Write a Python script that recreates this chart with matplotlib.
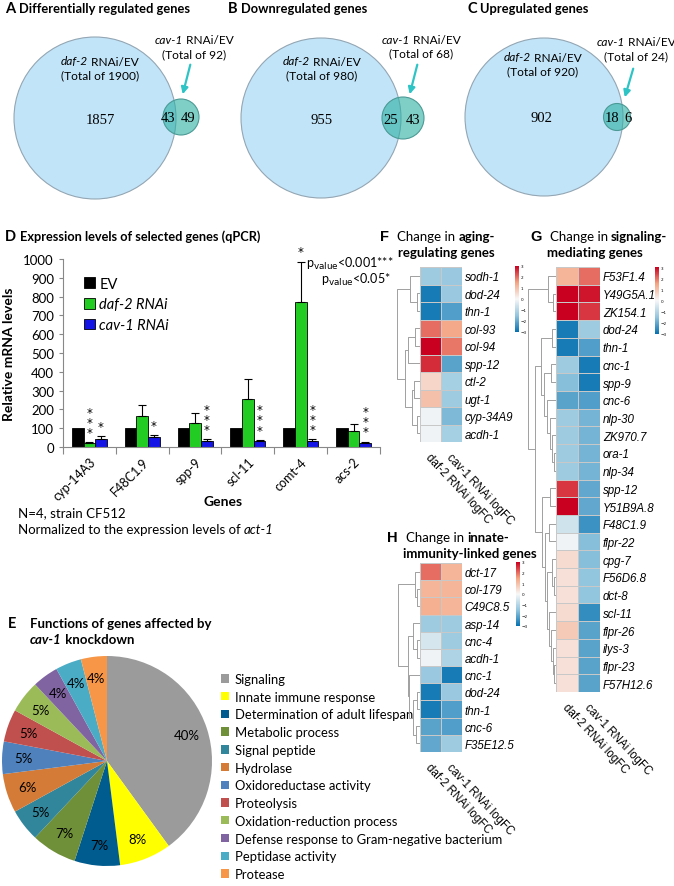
import numpy as np
import matplotlib
matplotlib.use('Agg')
import matplotlib.pyplot as plt
from matplotlib.patches import Circle
from matplotlib.colors import LinearSegmentedColormap

W, H = 674, 887
SANS = 'Lato'
ARIAL = 'Liberation Sans'
SERIF = 'Liberation Serif'

# ---- Venn counts (A, B, C)
venn_titles = ['Differentially regulated genes', 'Downregulated genes', 'Upregulated genes']
venn_letters = ['A', 'B', 'C']
daf2_total = [1900, 980, 920]
cav1_total = [92, 68, 24]
overlap = [43, 25, 18]

# ---- qPCR (D)
genes = ['cyp-14A3', 'F48C1.9', 'spp-9', 'scl-11', 'comt-4', 'acs-2']
ev = [100, 100, 100, 100, 100, 100]
daf2 = [20, 165, 128, 255, 770, 83]
daf2_err = [5, 60, 52, 107, 215, 40]
cav1 = [42, 52, 32, 32, 32, 23]
cav1_err = [15, 12, 8, 5, 8, 5]
daf2_stars = ['***', '', '', '', '*', '']
cav1_stars = ['*', '*', '***', '***', '***', '***']

# ---- functions pie (E)
func_labels = ['Signaling', 'Innate immune response', 'Determination of adult lifespan',
               'Metabolic process', 'Signal peptide', 'Hydrolase', 'Oxidoreductase activity',
               'Proteolysis', 'Oxidation-reduction process',
               'Defense response to Gram-negative bacterium', 'Peptidase activity', 'Protease']
func_pct = [40, 8, 7, 7, 5, 6, 5, 5, 5, 4, 4, 4]
func_colors = ['#9b9b9b', '#ffff00', '#005b8e', '#6f8f38', '#31869b', '#d47b38',
               '#4f81bd', '#c0504d', '#9bbb59', '#8064a2', '#4bacc6', '#f79646']

# ---- heatmaps (F, G, H): logFC (daf-2, cav-1)
col_labels = ['daf-2 RNAi logFC', 'cav-1 RNAi logFC']
f_genes = ['sodh-1', 'dod-24', 'thn-1', 'col-93', 'col-94', 'spp-12', 'ctl-2', 'ugt-1',
           'cyp-34A9', 'acdh-1']
f_daf2 = [-1.3, -2.8, -2.8, 2.0, 3.0, 2.6, 0.6, 1.0, -0.1, -0.1]
f_cav1 = [-1.4, -1.4, -2.2, 1.4, 1.9, -2.1, -1.2, -1.3, -1.7, -1.2]
f_tree = (70, (30, 0, (10, 1, 2)), (45, (37, (15, 3, 4), 5), (25, (17, 6, 7), (10, 8, 9))))

g_genes = ['F53F1.4', 'Y49G5A.1', 'ZK154.1', 'dod-24', 'thn-1', 'cnc-1', 'spp-9', 'cnc-6',
           'nlp-30', 'ZK970.7', 'ora-1', 'nlp-34', 'spp-12', 'Y51B9A.8', 'F48C1.9', 'flpr-22',
           'cpg-7', 'F56D6.8', 'dct-8', 'scl-11', 'flpr-26', 'ilys-3', 'flpr-23', 'F57H12.6']
g_daf2 = [1.2, 3.0, 3.0, -2.8, -2.8, -1.3, -1.6, -2.1, -1.3, -1.3, -1.3, -1.3, 2.5, 3.0,
          -0.6, -0.1, 0.5, 0.4, 0.4, 0.5, 0.8, 0.4, 0.4, 0.4]
g_cav1 = [2.0, 2.8, 2.5, -1.3, -2.2, -2.8, -2.8, -2.2, -1.8, -1.8, -1.8, -1.8, -2.0, -2.0,
          -2.4, -1.6, -1.6, -1.5, -1.5, -2.5, -2.1, -2.1, -2.1, -2.1]
g_tree = (29, (8, 0, (3, 1, 2)),
          (22, (16, (4, 3, 4), (12, (5, 5, 6), (9, 7, (6, 8, (4, 9, (2, 10, 11)))))),
           (15, (6, 12, 13), (11, (7, 14, 15), (9, (4, 16, (2, 17, 18)),
                                                  (7, 19, (5, 20, (3, 21, (2, 22, 23)))))))))

h_genes = ['dct-17', 'col-179', 'C49C8.5', 'asp-14', 'cnc-4', 'acdh-1', 'cnc-1', 'dod-24',
           'thn-1', 'cnc-6', 'F35E12.5']
h_daf2 = [2.0, 1.2, 1.3, -1.3, -0.5, -0.1, -1.4, -2.8, -2.8, -2.1, -2.0]
h_cav1 = [1.2, 1.2, 1.2, -1.3, -1.3, -1.1, -2.8, -1.4, -2.2, -2.2, -1.3]
h_tree = (67, (15, 0, (10, 1, 2)),
          (38, (20, 3, (10, 4, 5)), (32, 6, (20, (10, 7, 8), (13, 9, 10)))))

cmap = LinearSegmentedColormap.from_list(
    'rdbu5', ['#0571b0', '#92c5de', '#f7f7f7', '#f4a582', '#ca0020'])

fig = plt.figure(figsize=(W / 100, H / 100), dpi=100)
renderer = fig.canvas.get_renderer()


def fbox(x0, y0, x1, y1):
    return [x0 / W, 1 - y1 / H, (x1 - x0) / W, (y1 - y0) / H]


def txt(x, y, s, **kw):
    kw.setdefault('va', 'center')
    kw.setdefault('family', SANS)
    return fig.text(x / W, 1 - y / H, s, **kw)


def rich(x, y, parts, ha='left', **common):
    # parts: list of (string, props); placed one after another
    objs, widths = [], []
    for s, p in parts:
        kw = dict(common)
        kw.update(p)
        o = txt(0, y, s.rstrip(' '), ha='left', **kw)
        a = txt(0, -50, 'x x', **kw)
        b = txt(0, -50, 'xx', **kw)
        sp = a.get_window_extent(renderer).width - b.get_window_extent(renderer).width
        a.remove()
        b.remove()
        nsp = len(s) - len(s.rstrip(' '))
        objs.append(o)
        widths.append(o.get_window_extent(renderer).width + nsp * sp)
    start = x - sum(widths) / 2 if ha == 'center' else x
    for o, w in zip(objs, widths):
        o.set_x(start / W)
        start += w


# ================= Venn diagrams =================
ax0 = fig.add_axes([0, 0, 1, 1])
ax0.set_xlim(0, W)
ax0.set_ylim(H, 0)
ax0.axis('off')

venn_layout = [  # circles, label anchors, arrow ends (pixels)
    dict(big=(95, 119), rb=81, small=(181, 118), rs=18, dx=100, dy=62, cav=(194, 41),
         arrow=((191, 63), (182, 98)), title_x=5),
    dict(big=(321, 119), rb=80, small=(403, 119), rs=21, dx=322, dy=62, cav=(421, 40),
         arrow=((418, 63), (409, 98)), title_x=228),
    dict(big=(544, 118), rb=79, small=(617, 118), rs=13.5, dx=543, dy=58, cav=(636, 43),
         arrow=((634, 67), (624, 101)), title_x=467),
]
for i, L in enumerate(venn_layout):
    bx, by = L['big']
    sx, sy = L['small']
    ax0.add_patch(Circle((bx, by), L['rb'], facecolor='#c2e4f8', edgecolor='#93a6b3', lw=0.8))
    ax0.add_patch(Circle((sx, sy), L['rs'], facecolor='#2bafa3', alpha=0.6, edgecolor='none'))
    ax0.add_patch(Circle((sx, sy), L['rs'], facecolor='none', edgecolor='#4b9a95', lw=0.8))
    edge = bx + L['rb']
    ax0.text(L['dx'] - 2 * (i == 2), by + 1, str(daf2_total[i] - overlap[i]), ha='center',
             va='center', family=SERIF, fontsize=10.5)
    ax0.text((sx - L['rs'] + edge) / 2 - 1, sy + 1, str(overlap[i]), ha='center', va='center',
             family=SERIF, fontsize=10.5)
    ax0.text((edge + sx + L['rs']) / 2 + 1, sy + 1, str(cav1_total[i] - overlap[i]), ha='center',
             va='center', family=SERIF, fontsize=10.5)
    ax0.annotate('', xy=L['arrow'][1], xytext=L['arrow'][0],
                 arrowprops=dict(arrowstyle='-|>', color='#2ec4c6', lw=1.6, mutation_scale=10))
    rich(L['title_x'], 9, [(venn_letters[i] + ' ', dict(fontsize=10.5)),
                           (venn_titles[i], dict())], fontweight='bold', fontsize=9.3)
    rich(L['dx'], L['dy'], [('daf-2', dict(fontstyle='italic')), (' RNAi/EV', dict())],
         ha='center', fontsize=8.6)
    txt(L['dx'], L['dy'] + 14, f'(Total of {daf2_total[i]})', ha='center', fontsize=8.6)
    cx, cy = L['cav']
    rich(cx, cy, [('cav-1', dict(fontstyle='italic')), (' RNAi/EV', dict())], ha='center',
         fontsize=8.6)
    txt(cx, cy + 14, f'(Total of {cav1_total[i]})', ha='center', fontsize=8.6)

# ================= D bar chart =================
rich(5, 237, [('D ', dict(fontsize=10.5)), ('Expression levels of selected genes (qPCR)', dict())],
     fontweight='bold', fontsize=9.2)
ax = fig.add_axes(fbox(63, 260, 380, 448))
x = np.arange(len(genes))
w = 0.22
ax.bar(x - w, ev, w, color='black', edgecolor='black', lw=0.6, label='EV')
ax.bar(x, daf2, w, color='#22cc22', edgecolor='black', lw=0.6, label='daf-2 RNAi')
ax.bar(x + w, cav1, w, color='#1414e6', edgecolor='black', lw=0.6, label='cav-1 RNAi')
ax.errorbar(x, daf2, yerr=[np.zeros(len(x)), daf2_err], fmt='none', ecolor='black',
            elinewidth=0.8, capsize=3, capthick=0.8)
ax.errorbar(x + w, cav1, yerr=[np.zeros(len(x)), cav1_err], fmt='none', ecolor='black',
            elinewidth=0.8, capsize=3, capthick=0.8)
for i in range(len(x)):
    if daf2_stars[i]:
        ax.text(x[i], daf2[i] + daf2_err[i] + 18, '\n'.join(daf2_stars[i]), ha='center',
                va='bottom', fontsize=8.5, linespacing=0.72, clip_on=False)
    if cav1_stars[i]:
        ax.text(x[i] + w, cav1[i] + cav1_err[i] + 18, '\n'.join(cav1_stars[i]), ha='center',
                va='bottom', fontsize=8.5, linespacing=0.72, clip_on=False)
ax.set_xlim(-0.5, len(genes) - 0.5)
ax.set_ylim(0, 1000)
ax.set_yticks(np.arange(0, 1001, 100))
ax.set_xticks(np.arange(-0.5, len(genes), 1), [''] * (len(genes) + 1))
ax.set_xticks(x, genes, minor=True, rotation=45, ha='right', rotation_mode='anchor')
ax.tick_params(axis='x', which='major', length=5, color='#888888')
ax.tick_params(axis='x', which='minor', length=0, pad=6, labelsize=9)
ax.tick_params(axis='y', length=3, color='#888888', labelsize=9.5)
for lab in ax.get_xticklabels(minor=True) + ax.get_yticklabels():
    lab.set_family(SANS)
for s in ['top', 'right']:
    ax.spines[s].set_visible(False)
for s in ['left', 'bottom']:
    ax.spines[s].set_color('#888888')
ax.set_ylabel('Relative mRNA levels', fontweight='bold', fontsize=10, family=SANS, labelpad=6)
leg = ax.legend(loc='upper left', bbox_to_anchor=(0.025, 0.975), frameon=False,
                handlelength=0.75, handleheight=0.75, handletextpad=0.3, labelspacing=0.45,
                prop=dict(family=SANS, size=10.5))
for t in leg.get_texts()[1:]:
    t.set_fontstyle('italic')
ax.text(0.765, 0.98, r'p$_{\mathrm{value}}$<0.001***', transform=ax.transAxes, fontsize=9,
        family=SANS, va='center')
ax.text(0.815, 0.895, r'p$_{\mathrm{value}}$<0.05*', transform=ax.transAxes, fontsize=9,
        family=SANS, va='center')
txt(223, 502, 'Genes', ha='center', fontweight='bold', fontsize=10)
txt(18, 513, 'N=4, strain CF512', fontsize=9.5)
rich(18, 530, [('Normalized to the expression levels of ', dict()),
               ('act-1', dict(fontstyle='italic'))], fontsize=9.5)

# ================= E pie =================
txt(8, 624, 'E', fontweight='bold', fontsize=10.5)
txt(30, 624, 'Functions of genes affected by', fontweight='bold', fontsize=9.5)
rich(30, 640, [('cav-1', dict(fontstyle='italic')), (' knockdown', dict())], fontweight='bold',
     fontsize=9.5)
axp = fig.add_axes(fbox(2, 657, 212, 867))
wedges, _, autotexts = axp.pie(func_pct, colors=func_colors, startangle=90, counterclock=False,
                               autopct=lambda p: f'{p:.0f}%', pctdistance=0.8,
                               textprops=dict(fontsize=9.5, family=SANS))
axp.set_xlim(-1.0, 1.0)
axp.set_ylim(-1.0, 1.0)
axp.set_aspect('equal')
axp.legend(wedges, func_labels, loc='upper left', bbox_to_anchor=(221 / W, 1 - 674 / H),
           bbox_transform=fig.transFigure, frameon=False, borderpad=0, borderaxespad=0,
           handlelength=0.6, handleheight=0.6, handletextpad=0.45, labelspacing=0.44,
           prop=dict(family=SANS, size=9.4))


# ================= heatmaps =================
def draw_tree(axd, node):
    if isinstance(node, int):
        return node + 0.5, 0
    h, left, right = node
    y1, h1 = draw_tree(axd, left)
    y2, h2 = draw_tree(axd, right)
    axd.plot([h1, h, h, h2], [y1, y1, y2, y2], color='#a0a0a0', lw=0.7)
    return (y1 + y2) / 2, h


def heatmap(rows, d, c, tree, hm, dend, cb):
    vals = np.column_stack([d, c])
    n = len(rows)
    axh = fig.add_axes(fbox(*hm))
    mesh = axh.pcolormesh(vals, cmap=cmap, vmin=-3, vmax=3, edgecolors='#c8c8c8', linewidth=0.4)
    axh.set_xlim(0, 2)
    axh.set_ylim(n, 0)
    axh.yaxis.tick_right()
    axh.set_yticks(np.arange(n) + 0.5, rows, fontstyle='italic', fontsize=8.3, family=ARIAL)
    axh.set_xticks([])
    axh.tick_params(length=0)
    axh.tick_params(axis='y', pad=2)
    for j, lab in enumerate(col_labels):
        axh.annotate(lab, xy=(j + 0.5, n), xytext=(1, -6), textcoords='offset points',
                     rotation=-47, ha='left', va='top', rotation_mode='anchor',
                     fontsize=8.3, family=ARIAL, annotation_clip=False)
    for s in axh.spines.values():
        s.set_visible(False)
    axd = fig.add_axes(fbox(*dend))
    draw_tree(axd, tree)
    axd.set_xlim(tree[0], 0)
    axd.set_ylim(n, 0)
    axd.axis('off')
    axc = fig.add_axes(fbox(*cb))
    bar = fig.colorbar(mesh, cax=axc, ticks=[-3, -2, -1, 0, 1, 2, 3])
    bar.outline.set_visible(False)
    axc.tick_params(length=0, labelsize=3, pad=1)


rich(380, 237, [('F  ', dict(fontweight='bold', family=ARIAL, fontsize=10.5)),
                ('Change in ', dict()), ('aging-', dict(fontweight='bold'))], fontsize=9.5)
txt(398, 253, 'regulating genes', fontweight='bold', fontsize=9.5)
heatmap(f_genes, f_daf2, f_cav1, f_tree, (420, 268, 462, 443), (397, 268, 420, 443),
        (515, 267, 519, 333))

rich(530, 237, [('G  ', dict(fontweight='bold', family=ARIAL, fontsize=10.5)),
                ('Change in ', dict()), ('signaling-', dict(fontweight='bold'))], fontsize=9.5)
txt(547, 253, 'mediating genes', fontweight='bold', fontsize=9.5)
heatmap(g_genes, g_daf2, g_cav1, g_tree, (556, 268, 600, 693), (528, 268, 556, 693),
        (655, 268, 659, 335))

rich(387, 538, [('H  ', dict(fontweight='bold', family=ARIAL, fontsize=10.5)),
                ('Change in ', dict()), ('innate-', dict(fontweight='bold'))], fontsize=9.5)
txt(403, 554, 'immunity-linked genes', fontweight='bold', fontsize=9.5)
heatmap(h_genes, h_daf2, h_cav1, h_tree, (420, 564, 462, 753), (398, 564, 420, 753),
        (516, 563, 520, 627))

fig.savefig('out.png', dpi=100)
